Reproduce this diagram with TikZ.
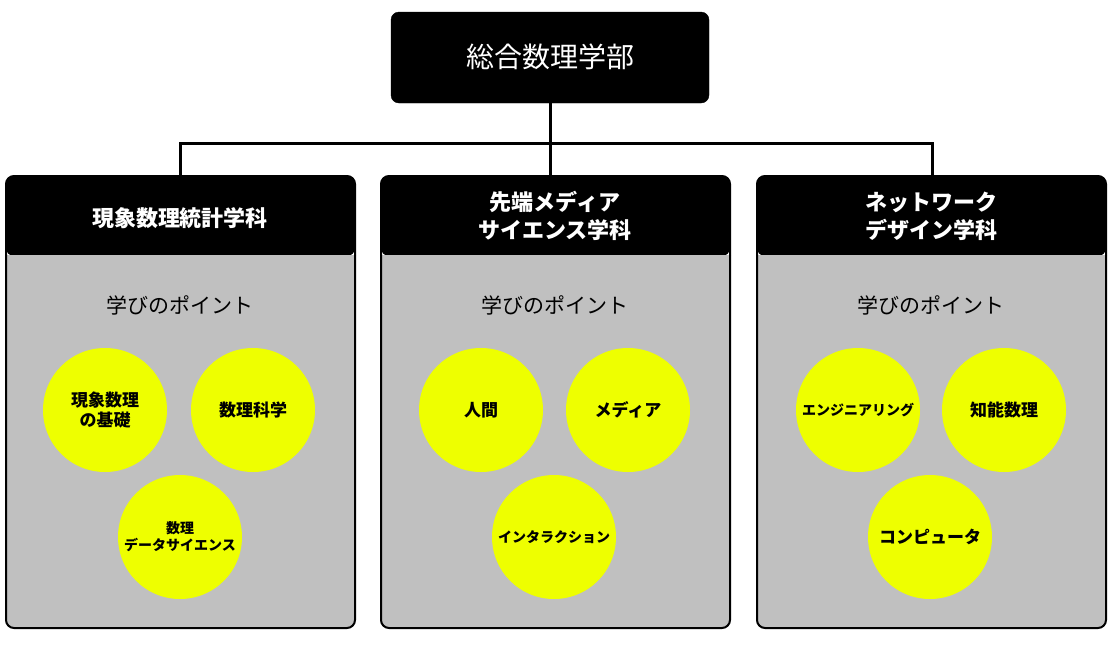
\documentclass[tikz,border=0pt]{standalone}
\usepackage{fontspec}
\setmainfont{Noto Sans CJK JP}
\newfontfamily\jpb{Noto Sans CJK JP Bold}
\definecolor{panelgray}{HTML}{C0C0C0}
\definecolor{ylw}{HTML}{EEFF00}
\begin{document}
\begin{tikzpicture}[x=1pt,y=-1pt,
  hdr/.style={fill=black,rounded corners=8pt},
  circ/.style={circle,fill=ylw,minimum size=124pt,inner sep=0pt,align=center,font=\bfseries\fontsize{17}{20}\selectfont},
  small/.style={font=\bfseries\fontsize{14}{17}\selectfont},
  pt/.style={font=\fontsize{21}{24}\selectfont},
  htxt/.style={text=white,align=center,font=\bfseries\fontsize{22}{28}\selectfont}]
\useasboundingbox (0,0) rectangle (1112,654);
\draw[hdr] (391,12) rectangle (709,103);
\node[text=white,font=\fontsize{28}{32}\selectfont] (top) at (550,57) {総合数理学部};
\coordinate (j) at (550,143);
\coordinate (l) at (180,143);
\coordinate (r) at (932,143);
\coordinate (lb) at (180,176);
\coordinate (mb) at (550,176);
\coordinate (rb) at (932,176);
\draw[line width=3pt] (550,103) -- (j);
\draw[line width=3pt] (lb) -- (l) -- (r) -- (rb);
\draw[line width=3pt] (j) -- (mb);
\foreach \x in {6,381,757}{
  \fill[black,rounded corners=8pt] (\x,176) rectangle ++(349,80);
  \draw[fill=panelgray,line width=2pt,rounded corners=8pt] (\x,255) -- (\x,628) -- (\x+349,628) -- (\x+349,255);
  \draw[line width=2pt,rounded corners=8pt] (\x,255) -- (\x,176) -- (\x+349,176) -- (\x+349,255);
}
\node[htxt] (h1) at (180,218) {現象数理統計学科};
\node[htxt] (h2) at (555,216) {先端メディア\\サイエンス学科};
\node[htxt] (h3) at (931,216) {ネットワーク\\デザイン学科};
\node[pt] (p1) at (180,305) {学びのポイント};
\node[pt] (p2) at (555,305) {学びのポイント};
\node[pt] (p3) at (931,305) {学びのポイント};
\node[circ] (c1) at (105,410) {現象数理\\の基礎};
\node[circ] (c2) at (253,410) {数理科学};
\node[circ,small] (c3) at (180,537) {数理\\データサイエンス};
\node[circ] (c4) at (481,410) {人間};
\node[circ] (c5) at (628,410) {メディア};
\node[circ,small] (c6) at (554,537) {インタラクション};
\node[circ,small] (c7) at (858,410) {エンジニアリング};
\node[circ] (c8) at (1004,410) {知能数理};
\node[circ] (c9) at (930,537) {コンピュータ};
\end{tikzpicture}
\end{document}
